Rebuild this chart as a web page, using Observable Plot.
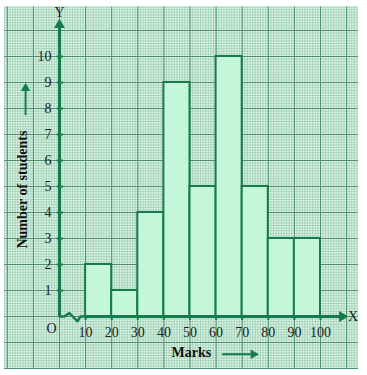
<!DOCTYPE html>
<html>
<head>
<meta charset="utf-8">
<script src="https://cdn.jsdelivr.net/npm/d3@7"></script>
<script src="https://cdn.jsdelivr.net/npm/@observablehq/plot@0.6"></script>
<style>
  html, body { margin: 0; padding: 0; background: #fff; }
  svg { display: block; }
</style>
</head>
<body>
<div id="chart"></div>
<script>
// Class intervals (marks) and number of students
const classStart = [10, 20, 30, 40, 50, 60, 70, 80, 90];
const classEnd   = [20, 30, 40, 50, 60, 70, 80, 90, 100];
const students   = [2, 1, 4, 9, 5, 10, 5, 3, 3];

const xTickLabels = [10, 20, 30, 40, 50, 60, 70, 80, 90, 100];
const yTickLabels = [1, 2, 3, 4, 5, 6, 7, 8, 9, 10];

const xTitle = "Marks";
const yTitle = "Number of students";

// graph-paper extent, in data units
const paperX = [-21, 114.5];
const paperY = [-2.04, 11.9];

const bars = classStart.map((s, i) => ({x1: s, x2: classEnd[i], y: students[i]}));

const minorX = d3.range(Math.ceil(paperX[0]), paperX[1], 1);
const minorY = d3.range(-20, 120, 1).map(d => d / 10).filter(d => d >= paperY[0] && d <= paperY[1]);
const majorX = minorX.filter(d => d % 10 === 0);
const majorY = minorY.filter(d => Math.abs(d - Math.round(d)) < 1e-9);

const green = "#167a4c";
const serif = "'Liberation Serif', 'Times New Roman', serif";

const breakPts = [[0, 0], [1.9, 0], [3.8, 0.135], [6.9, -0.19], [8.0, 0], [10, 0]];

const chart = Plot.plot({
  width: 367,
  height: 375,
  marginLeft: 59,
  marginRight: 47,
  marginTop: 56,
  marginBottom: 59,
  x: {domain: [0, 100], axis: null},
  y: {domain: [0, 10], axis: null},
  style: {fontFamily: serif, background: "#fff"},
  marks: [
    // paper
    Plot.rect([0], {x1: paperX[0], x2: paperX[1], y1: paperY[0], y2: paperY[1], fill: "#e6f6ec"}),
    Plot.ruleX(minorX, {x: d => d, y1: paperY[0], y2: paperY[1], stroke: "#9ed3b5", strokeWidth: 0.9}),
    Plot.ruleY(minorY, {y: d => d, x1: paperX[0], x2: paperX[1], stroke: "#9ed3b5", strokeWidth: 0.9}),
    Plot.ruleX(majorX, {x: d => d, y1: paperY[0], y2: paperY[1], stroke: "#4f8f6e", strokeWidth: 1}),
    Plot.ruleY(majorY, {y: d => d, x1: paperX[0], x2: paperX[1], stroke: "#4f8f6e", strokeWidth: 1}),
    // histogram bars
    Plot.rect(bars, {x1: "x1", x2: "x2", y1: 0, y2: "y", fill: "#c4f7da", stroke: green, strokeWidth: 2}),
    // axes
    Plot.ruleX([0], {x: d => d, y1: 0, y2: 11.2, stroke: green, strokeWidth: 3}),
    Plot.dot([0], {x: d => d, y: 11.22, symbol: "triangle", r: 4, fill: green, stroke: "none"}),
    Plot.ruleY([0], {y: d => d, x1: 10, x2: 107.5, stroke: green, strokeWidth: 3}),
    Plot.dot([0], {x: 108.3, y: d => d, symbol: "triangle", r: 4, rotate: 90, fill: green, stroke: "none"}),
    Plot.line(breakPts, {x: d => d[0], y: d => d[1], stroke: green, strokeWidth: 2.5}),
    // ticks
    Plot.ruleY(yTickLabels, {y: d => d, x1: -0.8, x2: 1.6, stroke: green, strokeWidth: 2}),
    Plot.ruleX(xTickLabels, {x: d => d, y1: 0, y2: -0.15, stroke: green, strokeWidth: 2}),
    // tick labels
    Plot.text(yTickLabels, {x: 0, y: d => d, text: d => String(d), dx: -8, textAnchor: "end", fontSize: 14, fill: "#222"}),
    Plot.text(xTickLabels, {x: d => d, y: 0, text: d => String(d), dy: 16, fontSize: 14, fill: "#222"}),
    Plot.text(["O"], {x: 0, y: 0, text: d => d, dx: -8, dy: 12, fontSize: 14, fill: "#222"}),
    Plot.text(["Y"], {x: 0, y: 11.7, text: d => d, fontSize: 14, fill: "#222"}),
    Plot.text(["X"], {x: 112.5, y: 0, text: d => d, fontSize: 14, fill: "#222"}),
    // titles
    Plot.text([yTitle], {x: -14.2, y: 4.88, text: d => d, rotate: -90, fontSize: 14, fontWeight: "bold", fill: "#111"}),
    Plot.ruleX([-13], {x: d => d, y1: 7.73, y2: 8.7, stroke: green, strokeWidth: 2}),
    Plot.dot([-13], {x: d => d, y: 8.78, symbol: "triangle", r: 3.5, fill: green, stroke: "none"}),
    Plot.text([xTitle], {x: 50.5, y: -1.38, text: d => d, fontSize: 14, fontWeight: "bold", fill: "#111"}),
    Plot.ruleY([-1.45], {y: d => d, x1: 62.5, x2: 73.5, stroke: green, strokeWidth: 2}),
    Plot.dot([-1.45], {x: 74.3, y: d => d, symbol: "triangle", r: 3.5, rotate: 90, fill: green, stroke: "none"})
  ]
});

document.getElementById("chart").appendChild(chart);
</script>
</body>
</html>
